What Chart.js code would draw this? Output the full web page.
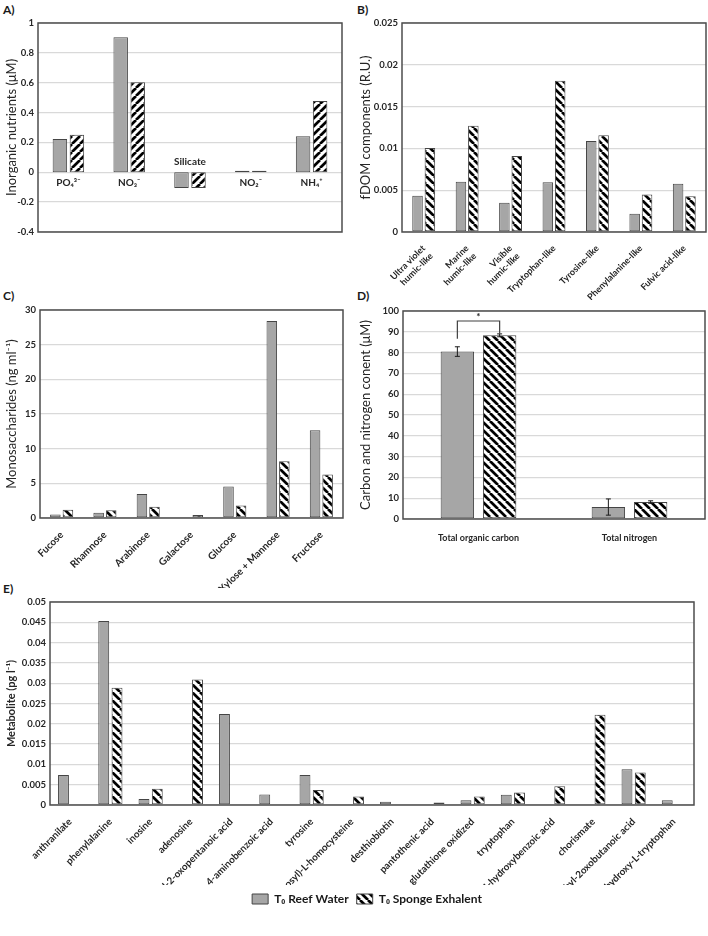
<!DOCTYPE html>
<html lang="en">
<head>
<meta charset="UTF-8">
<title>Reef water vs sponge exhalent</title>
<script src="https://cdn.jsdelivr.net/npm/chart.js"></script>
<style>
  body { margin: 0; background: #fff; width: 708px; height: 936px; position: relative; overflow: hidden; font-family: Lato, "Open Sans", sans-serif; }
  .panel { position: absolute; }
  .tag { position: absolute; font-weight: bold; font-size: 12px; color: #1a1a1a; }
</style>
</head>
<body>
<div class="tag" style="left:3px;top:2px">A)</div>
<div class="tag" style="left:357px;top:2px">B)</div>
<div class="tag" style="left:3px;top:288px">C)</div>
<div class="tag" style="left:357px;top:288px">D)</div>
<div class="tag" style="left:3px;top:581px">E)</div>

<div class="panel" style="left:0;top:0"><canvas id="chartA" width="354" height="280"></canvas></div>
<div class="panel" style="left:354px;top:0"><canvas id="chartB" width="354" height="300"></canvas></div>
<div class="panel" style="left:0;top:285px"><canvas id="chartC" width="354" height="303"></canvas></div>
<div class="panel" style="left:354px;top:285px"><canvas id="chartD" width="354" height="270"></canvas></div>
<div class="panel" style="left:0;top:580px"><canvas id="chartE" width="708" height="356"></canvas></div>

<script>
// A) inorganic nutrients (µM)
const nutrientLabels = ['PO₄³⁻', 'NO₃⁻', 'Silicate', 'NO₂⁻', 'NH₄⁺'];
const nutrientReef = [0.223, 0.904, -0.105, 0.011, 0.241];
const nutrientSponge = [0.252, 0.603, -0.105, 0.011, 0.478];

// B) fDOM components (R.U.)
const fdomLabels = [['Ultra violet', 'humic-like'], ['Marine', 'humic-like'], ['Visible', 'humic-like'],
  'Tryptophan-like', 'Tyrosine-like', 'Phenylalanine-like', 'Fulvic acid-like'];
const fdomReef = [0.00435, 0.0060, 0.00350, 0.00594, 0.01089, 0.00219, 0.00578];
const fdomSponge = [0.01005, 0.01272, 0.00909, 0.0181, 0.01156, 0.0045, 0.00427];

// C) monosaccharides (ng ml-1)
const sugarLabels = ['Fucose', 'Rhamnose', 'Arabinose', 'Galactose', 'Glucose', 'Xylose + Mannose', 'Fructose'];
const sugarReef = [0.5, 0.77, 3.46, 0.14, 4.56, 28.4, 12.67];
const sugarSponge = [1.2, 1.1, 1.63, 0.43, 1.82, 8.2, 6.29];

// D) carbon and nitrogen (µM) with error bars
const carbonLabels = ['Total organic carbon', 'Total nitrogen'];
const carbonReef = [80.5, 5.75];
const carbonSponge = [88.3, 8.15];
const carbonReefErr = [2.3, 3.9];
const carbonSpongeErr = [0.7, 0.6];
const bracketLevels = [86.7, 95.2, 89.1]; // left leg end, top, right leg end

// E) metabolites (pg l-1)
const metaboliteLabels = ['anthranilate', 'phenylalanine', 'inosine', 'adenosine', '4-methyl-2-oxopentanoic acid',
  '4-aminobenzoic acid', 'tyrosine', "S-(5'-adenosyl)-L-homocysteine", 'desthiobiotin', 'pantothenic acid',
  'glutathione oxidized', 'tryptophan', '4-hydroxybenzoic acid', 'chorismate', '3,3-dimethyl-2oxobutanoic acid',
  '5-hydroxy-L-tryptophan'];
const metaboliteReef = [0.0074, 0.0453, 0.0015, null, 0.0224, 0.0026, 0.0074, null, 0.0008, null,
  0.0012, 0.0025, null, null, 0.0088, 0.0012];
const metaboliteSponge = [null, 0.0289, 0.0040, 0.0309, null, null, 0.0037, 0.0021, null, 0.0006,
  0.0021, 0.0031, 0.0046, 0.0222, 0.0080, null];

const seriesNames = ['T₀ Reef Water', 'T₀ Sponge Exhalent'];

Chart.defaults.font.family = 'Lato, "Open Sans", sans-serif';
Chart.defaults.color = '#262626';
Chart.defaults.animation = false;

const GREY = '#a6a6a6';
const EDGE = '#454545';

// white bar with black diagonal stripes
function hatch(dir) {
  const s = 8;
  const c = document.createElement('canvas');
  c.width = c.height = s;
  const g = c.getContext('2d');
  g.fillStyle = '#fff';
  g.fillRect(0, 0, s, s);
  g.strokeStyle = '#000';
  g.lineWidth = 2.7;
  g.beginPath();
  for (const o of [-s, 0, s]) {
    if (dir === '/') { g.moveTo(o, s); g.lineTo(o + s, 0); }
    else { g.moveTo(o, 0); g.lineTo(o + s, s); }
  }
  g.stroke();
  return g.createPattern(c, 'repeat');
}

// box around the plot area
const frame = {
  id: 'frame',
  afterDatasetsDraw(chart) {
    const { ctx, chartArea: a } = chart;
    ctx.save();
    ctx.strokeStyle = '#4d4d4d';
    ctx.lineWidth = 1.5;
    ctx.strokeRect(a.left, a.top, a.right - a.left, a.bottom - a.top);
    ctx.restore();
  }
};

function numTick(v) { return String(Number(v.toFixed(4))); }

function datasets(reef, sponge, dir) {
  return [
    { label: seriesNames[0], data: reef, backgroundColor: GREY, borderColor: EDGE, borderWidth: 1, borderSkipped: false },
    { label: seriesNames[1], data: sponge, backgroundColor: hatch(dir), borderColor: EDGE, borderWidth: 1, borderSkipped: false }
  ];
}

function makeOptions(o) {
  return {
    responsive: false,
    layout: { padding: o.pad },
    plugins: { legend: { display: false }, tooltip: { enabled: false } },
    datasets: { bar: { categoryPercentage: o.cat, barPercentage: o.bar } },
    scales: {
      x: {
        grid: { display: false },
        border: { display: false },
        ticks: Object.assign({ font: { size: 9.5, weight: 'bold' }, autoSkip: false, padding: 3 }, o.xticks || {}),
        afterFit: s => { s.height = o.xh; }
      },
      y: {
        min: o.min, max: o.max,
        grid: { color: '#d9d9d9', lineWidth: 1.3, drawTicks: false },
        border: { display: false },
        ticks: { stepSize: o.step, callback: numTick, font: { size: 9.5, weight: 'bold' }, padding: 4 },
        title: Object.assign({ display: true, text: o.title, font: { size: 13 }, padding: { top: 4, bottom: 0 } }, o.titleExtra || {}),
        afterFit: s => { s.width = o.yw; }
      }
    }
  };
}

// A: category names sit on the zero line
const zeroLabels = {
  id: 'zeroLabels',
  afterDraw(chart) {
    const { ctx, scales: { x, y } } = chart;
    const y0 = y.getPixelForValue(0);
    ctx.save();
    ctx.font = 'bold 10px Lato, "Open Sans", sans-serif';
    ctx.fillStyle = '#262626';
    ctx.textAlign = 'center';
    ctx.textBaseline = 'middle';
    nutrientLabels.forEach((t, i) => {
      const below = nutrientReef[i] >= 0;
      ctx.fillText(t, x.getPixelForValue(i), below ? y0 + 10 : y0 - 11);
    });
    ctx.restore();
  }
};

const optsA = makeOptions({ pad: { left: 0, right: 12, top: 23, bottom: 0 }, cat: 0.56, bar: 0.85, min: -0.4, max: 1, step: 0.2,
  yw: 38, xh: 48, title: 'Inorganic nutrients (μM)', xticks: { display: false } });
new Chart(document.getElementById('chartA'), {
  type: 'bar',
  data: { labels: nutrientLabels, datasets: datasets(nutrientReef, nutrientSponge, '/') },
  options: optsA,
  plugins: [frame, zeroLabels]
});

const optsB = makeOptions({ pad: { left: 0, right: 2, top: 23, bottom: 0 }, cat: 0.57, bar: 0.85, min: 0, max: 0.025, step: 0.005,
  yw: 48, xh: 68, title: 'fDOM components (R.U.)', xticks: { minRotation: 45, maxRotation: 45, font: { size: 9, weight: 'bold' } } });
new Chart(document.getElementById('chartB'), {
  type: 'bar',
  data: { labels: fdomLabels, datasets: datasets(fdomReef, fdomSponge, '\\') },
  options: optsB,
  plugins: [frame]
});

const optsC = makeOptions({ pad: { left: 0, right: 11, top: 25, bottom: 0 }, cat: 0.58, bar: 0.84, min: 0, max: 30, step: 5,
  yw: 40, xh: 70, title: 'Monosaccharides (ng ml⁻¹)', xticks: { minRotation: 45, maxRotation: 45, font: { size: 10, weight: 'bold' } } });
new Chart(document.getElementById('chartC'), {
  type: 'bar',
  data: { labels: sugarLabels, datasets: datasets(sugarReef, sugarSponge, '\\') },
  options: optsC,
  plugins: [frame]
});

// D: error bars and the significance bracket
const errorBars = {
  id: 'errorBars',
  afterDatasetsDraw(chart) {
    const { ctx, scales: { y } } = chart;
    ctx.save();
    ctx.strokeStyle = '#1a1a1a';
    ctx.lineWidth = 1;
    [carbonReefErr, carbonSpongeErr].forEach((errs, d) => {
      chart.getDatasetMeta(d).data.forEach((bar, i) => {
        const v = chart.data.datasets[d].data[i];
        const top = y.getPixelForValue(v + errs[i]);
        const bot = y.getPixelForValue(v - errs[i]);
        ctx.beginPath();
        ctx.moveTo(bar.x, top); ctx.lineTo(bar.x, bot);
        ctx.moveTo(bar.x - 2.5, top); ctx.lineTo(bar.x + 2.5, top);
        ctx.moveTo(bar.x - 2.5, bot); ctx.lineTo(bar.x + 2.5, bot);
        ctx.stroke();
      });
    });
    const lx = chart.getDatasetMeta(0).data[0].x;
    const rx = chart.getDatasetMeta(1).data[0].x;
    ctx.strokeStyle = '#404040';
    ctx.lineWidth = 1.2;
    ctx.beginPath();
    ctx.moveTo(lx, y.getPixelForValue(bracketLevels[0]));
    ctx.lineTo(lx, y.getPixelForValue(bracketLevels[1]));
    ctx.lineTo(rx, y.getPixelForValue(bracketLevels[1]));
    ctx.lineTo(rx, y.getPixelForValue(bracketLevels[2]));
    ctx.stroke();
    ctx.fillStyle = '#262626';
    ctx.font = 'bold 10px Lato, sans-serif';
    ctx.textAlign = 'center';
    ctx.textBaseline = 'middle';
    ctx.fillText('*', (lx + rx) / 2, y.getPixelForValue(bracketLevels[1]) - 4);
    ctx.restore();
  }
};

const optsD = makeOptions({ pad: { left: 0, right: 3, top: 26, bottom: 0 }, cat: 0.56, bar: 0.79, min: 0, max: 100, step: 10,
  yw: 49, xh: 36, title: 'Carbon and nitrogen conent (μM)', xticks: { maxRotation: 0, padding: 6, font: { size: 9, weight: 'bold' } } });
new Chart(document.getElementById('chartD'), {
  type: 'bar',
  data: { labels: carbonLabels, datasets: datasets(carbonReef, carbonSponge, '\\') },
  options: optsD,
  plugins: [frame, errorBars]
});

// nudge the shared legend a little right, as in the figure
const legendShift = {
  id: 'legendShift',
  afterLayout(chart) {
    chart.legend.left += 20;
    chart.legend.right += 20;
  }
};

const optsE = makeOptions({ pad: { left: 0, right: 14, top: 22, bottom: 21 }, cat: 0.66, bar: 0.82, min: 0, max: 0.05, step: 0.005,
  yw: 50, xh: 80, title: 'Metabolite (pg l⁻¹)', titleExtra: { font: { size: 11, weight: 'bold' }, padding: { top: 5, bottom: 0 } },
  xticks: { minRotation: 45, maxRotation: 45, font: { size: 9.8, weight: 'bold' } } });
optsE.plugins.legend = {
  display: true,
  position: 'bottom',
  labels: { boxWidth: 16, boxHeight: 10, padding: 8, font: { size: 12, weight: 'bold' }, color: '#1a1a1a' }
};
new Chart(document.getElementById('chartE'), {
  type: 'bar',
  data: { labels: metaboliteLabels, datasets: datasets(metaboliteReef, metaboliteSponge, '\\') },
  options: optsE,
  plugins: [frame, legendShift]
});
</script>
</body>
</html>
